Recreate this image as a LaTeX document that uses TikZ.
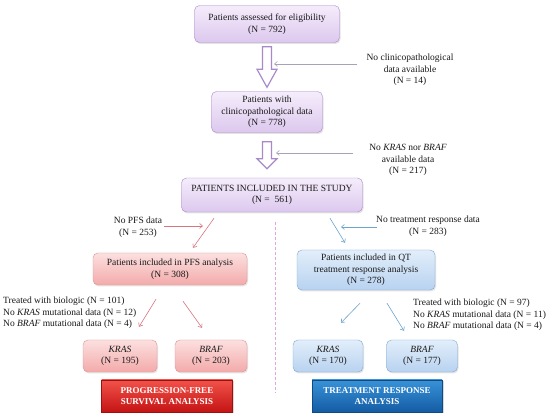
\documentclass[tikz,border=0pt]{standalone}
\usepackage{fontspec}
\setmainfont{Liberation Serif}
\usetikzlibrary{positioning,arrows.meta,calc,shadows}
\definecolor{lavtop}{RGB}{245,237,251}
\definecolor{lavbot}{RGB}{220,200,238}
\definecolor{lavline}{RGB}{168,138,202}
\definecolor{pinktop}{RGB}{252,224,224}
\definecolor{pinkbot}{RGB}{244,170,170}
\definecolor{pinkline}{RGB}{222,148,148}
\definecolor{skytop}{RGB}{226,238,250}
\definecolor{skybot}{RGB}{184,210,240}
\definecolor{skyline}{RGB}{128,168,212}
\definecolor{redtop}{RGB}{242,82,74}
\definecolor{redbot}{RGB}{196,20,20}
\definecolor{bluetop}{RGB}{56,146,216}
\definecolor{bluebot}{RGB}{20,92,164}
\definecolor{greyarr}{RGB}{168,162,184}
\definecolor{pfsarr}{RGB}{214,118,128}
\definecolor{qtarr}{RGB}{108,164,206}
\definecolor{divide}{RGB}{222,168,220}
\definecolor{ink}{RGB}{25,25,25}
\tikzset{
  base/.style={rounded corners=5pt, align=center, text=ink, inner sep=2pt,
               font=\fontsize{9.5}{11.5}\selectfont,
               drop shadow={opacity=0.22, shadow xshift=1pt, shadow yshift=-1.5pt}},
  lav/.style={base, draw=lavline, top color=lavtop, bottom color=lavbot},
  pfsbox/.style={base, draw=pinkline, top color=pinktop, bottom color=pinkbot},
  qtbox/.style={base, draw=skyline, top color=skytop, bottom color=skybot},
  banner/.style={align=center, text=white, minimum height=32pt,
               font=\fontsize{9}{11}\selectfont\bfseries,
               drop shadow={opacity=0.3, shadow xshift=1.5pt, shadow yshift=-1.5pt}},
  note/.style={align=center, text=ink, inner sep=1pt, font=\fontsize{9.5}{11.5}\selectfont},
  listnote/.style={note, align=left},
  hollow/.style={draw=lavline, line width=1.2pt, fill=white, line join=miter},
  thinarr/.style={-{Straight Barb[length=3pt,width=5pt]}, line width=0.6pt},
  gray arr/.style={thinarr, draw=greyarr},
  pfs arr/.style={thinarr, draw=pfsarr},
  qt arr/.style={thinarr, draw=qtarr},
  divider/.style={draw=divide, line width=0.8pt, dash pattern=on 3pt off 2pt},
}
% big hollow down arrow: from, to, gap, head length
\newcommand\hollowdown[4]{%
  \draw[hollow] let \p1=([yshift=-#3]#1.south), \p2=([yshift=#3]#2.north) in
    (\x1-4.5pt,\y1) -- (\x1+4.5pt,\y1) -- (\x1+4.5pt,\y2+#4) -- (\x1+10pt,\y2+#4)
    -- (\x1,\y2) -- (\x1-10pt,\y2+#4) -- (\x1-4.5pt,\y2+#4) -- cycle;}

\begin{document}
\begin{tikzpicture}[x=1pt,y=1pt]
  \fill[white] (0,0) rectangle (550,-417);
  \useasboundingbox (0,0) rectangle (550,-417);

  % main column
  \node[lav, minimum width=145pt, minimum height=37pt] (assessed) at (267,-24)
    {Patients assessed for eligibility\\(N = 792)};
  \node[lav, minimum width=111pt, minimum height=41pt] (clinical) at (267,-112)
    {Patients with\\clinicopathological data\\(N = 778)};
  \node[lav, minimum width=181pt, minimum height=34pt] (study) at (272,-195)
    {PATIENTS INCLUDED IN THE STUDY\\(N =~ 561)};

  \hollowdown{assessed}{clinical}{4pt}{18pt}
  \hollowdown{clinical}{study}{9pt}{10pt}

  % exclusions on the right
  \node[note] (nodata) at (410,-70)
    {No clinicopathological\\data available\\(N = 14)};
  \node[note] (nomut) at (408,-160)
    {No \textit{KRAS} nor \textit{BRAF}\\available data\\(N = 217)};
  \coordinate (shaft1) at (274,-64);
  \coordinate (shaft2) at (276,-153);
  \draw[gray arr] ([xshift=-8pt]nodata.west |- shaft1) -- (shaft1);
  \draw[gray arr] ([xshift=-15pt]nomut.west |- shaft2) -- (shaft2);

  % split into two analyses
  \node[pfsbox, minimum width=154pt, minimum height=32pt] (pfs) at (170,-269)
    {Patients included in PFS analysis\\(N = 308)};
  \node[qtbox, minimum width=138pt, minimum height=40pt] (qt) at (366,-270)
    {Patients included in QT\\treatment response analysis\\(N = 278)};
  \draw[pfs arr] ([xshift=-58pt,yshift=-6pt]study.south) -- ([xshift=23pt,yshift=5pt]pfs.north);
  \draw[qt arr] ([xshift=58pt,yshift=-6pt]study.south) -- ([xshift=-21pt,yshift=7pt]qt.north);

  \node[note] (nopfs) at (138,-227) {No PFS data\\(N = 253)};
  \node[note] (noresp) at (428,-226) {No treatment response data\\(N = 283)};
  \coordinate (pfscut) at (203,-226);
  \coordinate (qtcut) at (341,-227);
  \draw[pfs arr] ([xshift=1pt]nopfs.east |- pfscut) -- (pfscut);
  \draw[qt arr] ([xshift=2pt]noresp.west |- qtcut) -- (qtcut);

  % divider
  \coordinate (divtop) at (275,-222);
  \coordinate (divbot) at (275,-393);
  \draw[divider] (divtop) -- (divbot);

  % gene boxes
  \node[pfsbox, minimum width=74pt, minimum height=32pt] (kraspfs) at (120,-356)
    {\textit{KRAS}\\(N = 195)};
  \node[pfsbox, minimum width=72pt, minimum height=32pt] (brafpfs) at (211,-356)
    {\textit{BRAF}\\(N = 203)};
  \node[qtbox, minimum width=70pt, minimum height=32pt] (krasqt) at (328,-356)
    {\textit{KRAS}\\(N = 170)};
  \node[qtbox, minimum width=71pt, minimum height=32pt] (brafqt) at (422,-356)
    {\textit{BRAF}\\(N = 177)};

  \draw[pfs arr] ([xshift=-14pt,yshift=-14pt]pfs.south) -- ([xshift=19pt,yshift=13pt]kraspfs.north);
  \draw[pfs arr] ([xshift=13pt,yshift=-16pt]pfs.south) -- ([xshift=-9pt,yshift=12pt]brafpfs.north);
  \draw[qt arr] ([xshift=-6pt,yshift=-13pt]qt.south) -- ([xshift=13pt,yshift=17pt]krasqt.north);
  \draw[qt arr] ([xshift=21pt,yshift=-13pt]qt.south) -- ([xshift=-18pt,yshift=9pt]brafqt.north);

  \node[listnote, anchor=west] (exclpfs) at (2,-313)
    {Treated with biologic (N = 101)\\No \textit{KRAS} mutational data (N = 12)\\No \textit{BRAF} mutational data (N = 4)};
  \node[listnote, anchor=west] (exclqt) at (412,-315)
    {Treated with biologic (N = 97)\\No \textit{KRAS} mutational data (N = 11)\\No \textit{BRAF} mutational data (N = 4)};

  % analysis banners
  \node[banner, draw=redbot!80!black, top color=redtop, bottom color=redbot, minimum width=131pt] (pfsban) at (167,-396)
    {PROGRESSION-FREE\\SURVIVAL ANALYSIS};
  \node[banner, draw=bluebot!80!black, top color=bluetop, bottom color=bluebot, minimum width=130pt] (qtban) at (377,-396)
    {TREATMENT RESPONSE\\ANALYSIS};
\end{tikzpicture}
\end{document}
